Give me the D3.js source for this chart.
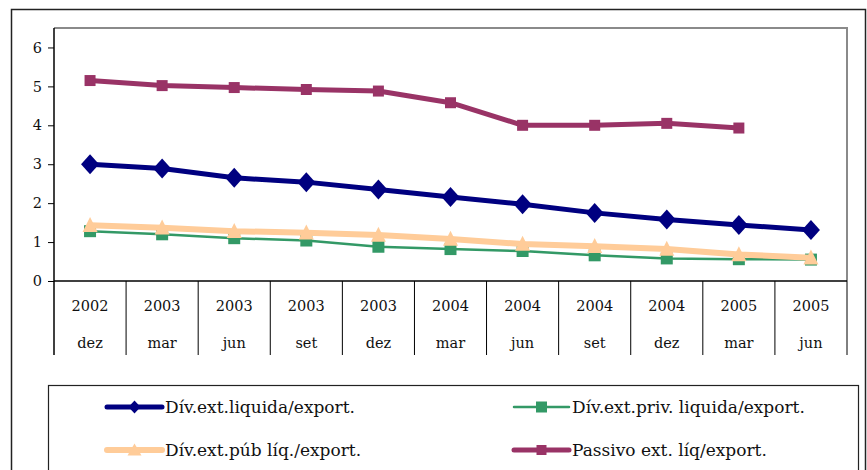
<!DOCTYPE html>
<html>
<head>
<meta charset="utf-8">
<script src="https://cdn.jsdelivr.net/npm/d3@7"></script>
<style>
  html, body { margin: 0; padding: 0; background: #fff; }
</style>
</head>
<body>
<svg id="chart" width="867" height="470"></svg>
<script>
// Quarterly ratios of net external debt / liabilities to exports
const years  = ["2002", "2003", "2003", "2003", "2003", "2004", "2004", "2004", "2004", "2005", "2005"];
const months = ["dez", "mar", "jun", "set", "dez", "mar", "jun", "set", "dez", "mar", "jun"];
const yTicks = [0, 1, 2, 3, 4, 5, 6];

const divLiquida  = [3.00, 2.89, 2.65, 2.54, 2.35, 2.16, 1.97, 1.75, 1.58, 1.44, 1.31];
const divPrivada  = [1.28, 1.20, 1.10, 1.04, 0.88, 0.82, 0.77, 0.66, 0.58, 0.56, 0.55];
const divPublica  = [1.43, 1.37, 1.28, 1.24, 1.18, 1.08, 0.95, 0.89, 0.82, 0.68, 0.60];
const passivoLiq  = [5.15, 5.02, 4.97, 4.92, 4.88, 4.58, 4.00, 4.00, 4.05, 3.93, null];

const seriesNames = [
  "Dív.ext.liquida/export.",
  "Dív.ext.priv. liquida/export.",
  "Dív.ext.púb líq./export.",
  "Passivo ext. líq/export."
];

const FONT = "'DejaVu Serif', serif";

// marker sizes: [width, height] in the plot and in the legend
const series = [
  { name: seriesNames[0], values: divLiquida, color: "#000080", width: 5,   marker: "diamond",  size: [18, 20], lsize: [12, 13] },
  { name: seriesNames[1], values: divPrivada, color: "#339966", width: 2.5, marker: "square",   size: [12, 12], lsize: [11, 11] },
  { name: seriesNames[2], values: divPublica, color: "#FFCC99", width: 6,   marker: "triangle", size: [15, 15], lsize: [14, 12] },
  { name: seriesNames[3], values: passivoLiq, color: "#993366", width: 5,   marker: "square",   size: [11, 11], lsize: [10, 10] }
];

const svg = d3.select("#chart");
const plot = { left: 54, right: 847, top: 28, bottom: 281 };
const tableBottom = 355;

// outer frame
svg.append("rect")
  .attr("x", 11.5).attr("y", 9.5)
  .attr("width", 854).attr("height", 470)
  .attr("fill", "none").attr("stroke", "#222").attr("stroke-width", 1.5);

const x = d3.scaleBand().domain(d3.range(years.length)).range([plot.left, plot.right]);
const y = d3.scaleLinear().domain([0, 6.5]).range([plot.bottom, plot.top]);

// plot area border (top and right in gray)
svg.append("path")
  .attr("d", `M${plot.left},${plot.top} H${plot.right} V${plot.bottom}`)
  .attr("fill", "none").attr("stroke", "#8a8a8a").attr("stroke-width", 2);

// y axis
const yAxis = svg.append("g")
  .attr("transform", `translate(${plot.left},0)`)
  .call(d3.axisLeft(y).tickValues(yTicks).tickSize(6).tickPadding(6).tickFormat(d3.format("d")));
yAxis.attr("font-family", null).attr("font-size", null);
yAxis.select(".domain").attr("stroke", "#000").attr("stroke-width", 1.5)
  .attr("d", `M0,${plot.top}V${tableBottom}`);
yAxis.selectAll(".tick line").attr("stroke", "#000");
yAxis.selectAll(".tick text")
  .attr("font-family", FONT).attr("font-size", 14.5).attr("fill", "#111");

// category table below the axis
const xAxis = svg.append("g").attr("font-family", FONT);
xAxis.append("line")
  .attr("x1", plot.left).attr("x2", plot.right)
  .attr("y1", plot.bottom).attr("y2", plot.bottom)
  .attr("stroke", "#000").attr("stroke-width", 1.5);
const bounds = d3.range(1, years.length + 1).map(i => x(i - 1) + x.bandwidth());
xAxis.selectAll("line.div").data(bounds).join("line")
  .attr("class", "div")
  .attr("x1", d => d).attr("x2", d => d)
  .attr("y1", plot.bottom).attr("y2", tableBottom)
  .attr("stroke", "#000").attr("stroke-width", 1);
xAxis.selectAll("text.yr").data(years).join("text")
  .attr("class", "yr")
  .attr("x", (d, i) => x(i) + x.bandwidth() / 2)
  .attr("y", 311)
  .attr("text-anchor", "middle").attr("font-size", 14.5).attr("fill", "#111")
  .text(d => d);
xAxis.selectAll("text.mo").data(months).join("text")
  .attr("class", "mo")
  .attr("x", (d, i) => x(i) + x.bandwidth() / 2)
  .attr("y", 348)
  .attr("text-anchor", "middle").attr("font-size", 14.5).attr("fill", "#111")
  .text(d => d);

// marker shapes
function markerPath(type, [w, h]) {
  const a = w / 2, b = h / 2;
  if (type === "diamond") return `M0,${-b}L${a},0L0,${b}L${-a},0Z`;
  if (type === "triangle") return `M0,${-b * 1.1}L${a},${b * 0.9}L${-a},${b * 0.9}Z`;
  return `M${-a},${-b}H${a}V${b}H${-a}Z`;
}

const cx = i => x(i) + x.bandwidth() / 2;
const line = d3.line()
  .defined(d => d != null)
  .x((d, i) => cx(i))
  .y(d => y(d));

const gSeries = svg.append("g");
series.forEach(s => {
  const g = gSeries.append("g");
  g.append("path")
    .attr("d", line(s.values))
    .attr("fill", "none").attr("stroke", s.color)
    .attr("stroke-width", s.width).attr("stroke-linejoin", "round");
  g.selectAll("path.m").data(s.values.map((v, i) => ({ v, i })).filter(d => d.v != null))
    .join("path").attr("class", "m")
    .attr("transform", d => `translate(${cx(d.i)},${y(d.v)})`)
    .attr("d", markerPath(s.marker, s.size))
    .attr("fill", s.color);
});

// legend
const legend = svg.append("g").attr("font-family", FONT);
legend.append("rect")
  .attr("x", 48.5).attr("y", 385.5).attr("width", 810).attr("height", 100)
  .attr("fill", "#fff").attr("stroke", "#222").attr("stroke-width", 1.2);
const legendPos = [
  { x: 107, y: 407 }, { x: 514, y: 407 },
  { x: 107, y: 450 }, { x: 514, y: 450 }
];
series.forEach((s, k) => {
  const p = legendPos[k];
  const g = legend.append("g").attr("transform", `translate(${p.x},${p.y})`);
  g.append("line").attr("x1", 0).attr("x2", 55).attr("y1", 0).attr("y2", 0)
    .attr("stroke", s.color).attr("stroke-width", s.width).attr("stroke-linecap", "round");
  g.append("path").attr("transform", "translate(27.5,0)")
    .attr("d", markerPath(s.marker, s.lsize)).attr("fill", s.color);
  g.append("text").attr("x", 58).attr("y", 6)
    .attr("font-size", 17).attr("fill", "#111")
    .text(s.name);
});
</script>
</body>
</html>
